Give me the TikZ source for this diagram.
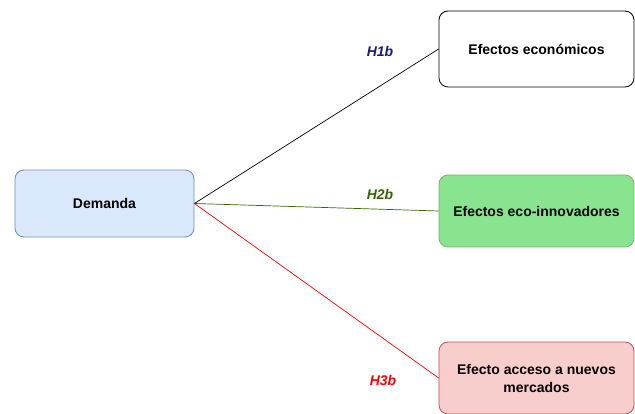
\documentclass[tikz,border=0pt]{standalone}
\usepackage{fontspec}
\setmainfont{Liberation Sans}
\usetikzlibrary{positioning}

\definecolor{demfill}{HTML}{DAE8FC}
\definecolor{demline}{HTML}{6C8EBF}
\definecolor{ecofill}{HTML}{88E48E}
\definecolor{ecoline}{HTML}{82B366}
\definecolor{accfill}{HTML}{F8CECC}
\definecolor{accline}{HTML}{B85450}
\definecolor{hblue}{HTML}{1A1A70}
\definecolor{hgreen}{HTML}{336600}

\tikzset{
    box/.style={rounded corners=9pt, line width=0.8pt, align=center,
        font=\fontsize{14}{18}\selectfont\bfseries, inner sep=0pt},
    hyp/.style={font=\fontsize{14}{16}\selectfont\bfseries\itshape}
}

\begin{document}
\begin{tikzpicture}[x=1pt, y=-1pt]
    \useasboundingbox (0,0) rectangle (635,414);

    % draw boxes
    \node[box, draw=demline, fill=demfill, minimum width=179pt, minimum height=67pt]
        (demanda) at (104.5,203.5) {Demanda};
    \node[box, draw=black, fill=white, minimum width=195pt, minimum height=76pt]
        (economicos) at (536.5,49) {Efectos económicos};
    \node[box, draw=ecoline, fill=ecofill, minimum width=195pt, minimum height=72pt]
        (ecoinnov) at (536.5,211) {Efectos eco-innovadores};
    \node[box, draw=accline, fill=accfill, minimum width=195pt, minimum height=72pt]
        (acceso) at (536.5,378) {Efecto acceso a nuevos\\mercados};

    % draw links
    \draw[black, line width=0.7pt] (demanda.east) -- (economicos.west);
    \draw[hgreen, line width=0.7pt] (demanda.east) -- (ecoinnov.west);
    \draw[red, line width=0.7pt] (demanda.east) -- (acceso.west);

    % hypothesis labels
    \node[hyp, text=hblue] (hone) at (380,51) {H1b};
    \node[hyp, text=hgreen] (htwo) at (380,194) {H2b};
    \node[hyp, text=red] (hthree) at (383,380) {H3b};
\end{tikzpicture}
\end{document}
